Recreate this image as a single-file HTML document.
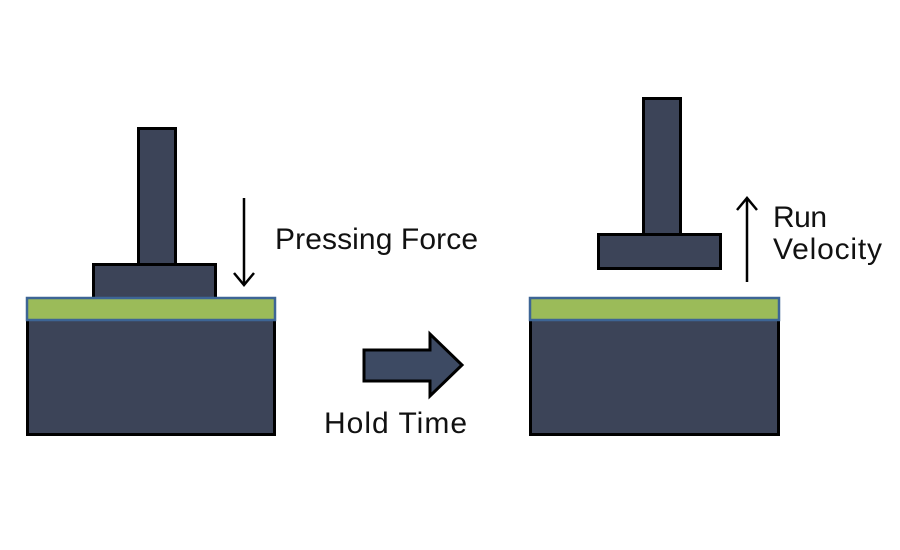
<!DOCTYPE html>
<html>
<head>
<meta charset="utf-8">
<style>
html,body{margin:0;padding:0;background:#fff;}
svg{display:block;}
text{font-family:"Liberation Sans",sans-serif;font-size:30px;fill:#111;}
</style>
</head>
<body>
<svg width="900" height="550" viewBox="0 0 900 550" xmlns="http://www.w3.org/2000/svg">
  <rect x="0" y="0" width="900" height="550" fill="#fff"/>
  <!-- Left figure -->
  <rect x="138.5" y="128.5" width="37" height="136" fill="#3c4458" stroke="#000" stroke-width="3"/>
  <rect x="93.5" y="264.5" width="122" height="34" fill="#3c4458" stroke="#000" stroke-width="3"/>
  <rect x="27.5" y="300" width="247" height="134.5" fill="#3c4458" stroke="#000" stroke-width="3"/>
  <rect x="27" y="298" width="248" height="22" fill="#9bbb59" stroke="#3d6595" stroke-width="2.5"/>
  <!-- Down arrow -->
  <line x1="244" y1="198" x2="244" y2="285" stroke="#000" stroke-width="2.5"/>
  <polyline points="234,273 244,285 254,273" fill="none" stroke="#000" stroke-width="2.5"/>
  <text x="275" y="249" textLength="203" lengthAdjust="spacing">Pressing Force</text>

  <!-- Block arrow -->
  <polygon points="364,350 430,350 430,334 462,365 430,396 430,381 364,381" fill="#3d4a63" stroke="#000" stroke-width="3" stroke-linejoin="miter"/>
  <text x="324" y="433" textLength="143" lengthAdjust="spacing">Hold Time</text>

  <!-- Right figure -->
  <rect x="643.5" y="98.5" width="37" height="136" fill="#3c4458" stroke="#000" stroke-width="3"/>
  <rect x="598.5" y="234.5" width="122" height="34" fill="#3c4458" stroke="#000" stroke-width="3"/>
  <rect x="530.5" y="300" width="248" height="134.5" fill="#3c4458" stroke="#000" stroke-width="3"/>
  <rect x="530" y="298" width="249" height="22" fill="#9bbb59" stroke="#3d6595" stroke-width="2.5"/>
  <!-- Up arrow -->
  <line x1="747" y1="198" x2="747" y2="282" stroke="#000" stroke-width="2.5"/>
  <polyline points="737,210 747,198 757,210" fill="none" stroke="#000" stroke-width="2.5"/>
  <text x="773" y="227" textLength="54" lengthAdjust="spacing">Run</text>
  <text x="773" y="259" textLength="109" lengthAdjust="spacing">Velocity</text>
</svg>
</body>
</html>
